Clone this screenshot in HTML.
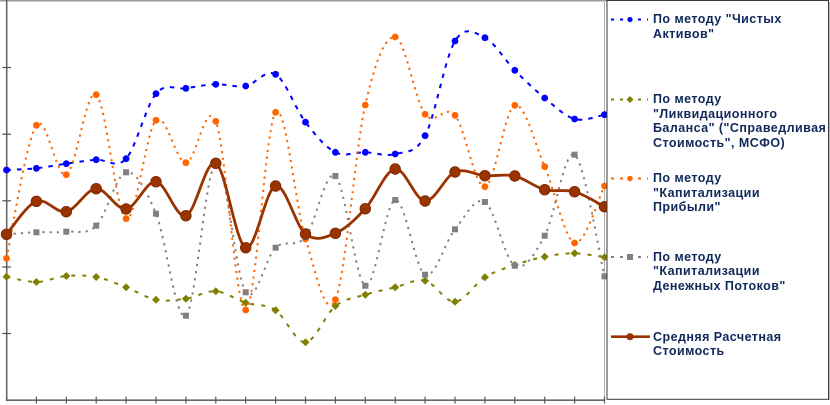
<!DOCTYPE html>
<html><head><meta charset="utf-8"><style>
html,body{margin:0;padding:0;background:#fff;}
#c{position:relative;width:830px;height:405px;overflow:hidden;background:#fff;}
svg{position:absolute;left:0;top:0;}
.t{position:absolute;left:653px;font:bold 12.5px "Liberation Sans","DejaVu Sans",sans-serif;letter-spacing:0.45px;line-height:14.5px;color:#10295a;white-space:nowrap;}
</style></head><body><div id="c">
<svg width="830" height="405" viewBox="0 0 830 405">
<defs>
<marker id="mb" markerUnits="userSpaceOnUse" markerWidth="12" markerHeight="12" refX="6" refY="6" overflow="visible"><circle cx="6" cy="6" r="3.4" fill="#0000ff"/></marker>
<marker id="mo" markerUnits="userSpaceOnUse" markerWidth="12" markerHeight="12" refX="6" refY="6" overflow="visible"><path d="M6,2 L10,6 L6,10 L2,6Z" fill="#808000"/></marker>
<marker id="mr" markerUnits="userSpaceOnUse" markerWidth="12" markerHeight="12" refX="6" refY="6" overflow="visible"><circle cx="6" cy="6" r="3.4" fill="#ff6600"/></marker>
<marker id="mg" markerUnits="userSpaceOnUse" markerWidth="12" markerHeight="12" refX="6" refY="6" overflow="visible"><rect x="3" y="3" width="6" height="6" fill="#808080"/></marker>
<marker id="mbr" markerUnits="userSpaceOnUse" markerWidth="14" markerHeight="14" refX="7" refY="7" overflow="visible"><circle cx="7" cy="7" r="5.3" fill="#993300" stroke="#7a2600" stroke-width="0.8"/></marker>
</defs>
<!-- frame -->
<line x1="0" y1="0.75" x2="607" y2="0.75" stroke="#9a9a9a" stroke-width="1.5"/>
<line x1="604.5" y1="0" x2="604.5" y2="400" stroke="#b0b0b0" stroke-width="1"/>
<!-- axes -->
<line x1="6.7" y1="0" x2="6.7" y2="401" stroke="#666" stroke-width="1.6"/>
<line x1="6" y1="400.2" x2="605" y2="400.2" stroke="#666" stroke-width="1.6"/>
<g stroke="#555" stroke-width="1.2">
<line x1="2.3" y1="67.5" x2="11" y2="67.5"/>
<line x1="2.3" y1="134.2" x2="11" y2="134.2"/>
<line x1="2.3" y1="200.8" x2="11" y2="200.8"/>
<line x1="2.3" y1="267" x2="11" y2="267"/>
<line x1="2.3" y1="333.5" x2="11" y2="333.5"/>
<line x1="36.4" y1="396.7" x2="36.4" y2="403.5"/>
<line x1="66.3" y1="396.7" x2="66.3" y2="403.5"/>
<line x1="96.2" y1="396.7" x2="96.2" y2="403.5"/>
<line x1="126.1" y1="396.7" x2="126.1" y2="403.5"/>
<line x1="156" y1="396.7" x2="156" y2="403.5"/>
<line x1="185.9" y1="396.7" x2="185.9" y2="403.5"/>
<line x1="215.8" y1="396.7" x2="215.8" y2="403.5"/>
<line x1="245.7" y1="396.7" x2="245.7" y2="403.5"/>
<line x1="275.6" y1="396.7" x2="275.6" y2="403.5"/>
<line x1="305.5" y1="396.7" x2="305.5" y2="403.5"/>
<line x1="335.4" y1="396.7" x2="335.4" y2="403.5"/>
<line x1="365.3" y1="396.7" x2="365.3" y2="403.5"/>
<line x1="395.2" y1="396.7" x2="395.2" y2="403.5"/>
<line x1="425.1" y1="396.7" x2="425.1" y2="403.5"/>
<line x1="455" y1="396.7" x2="455" y2="403.5"/>
<line x1="484.9" y1="396.7" x2="484.9" y2="403.5"/>
<line x1="514.8" y1="396.7" x2="514.8" y2="403.5"/>
<line x1="544.7" y1="396.7" x2="544.7" y2="403.5"/>
<line x1="574.6" y1="396.7" x2="574.6" y2="403.5"/>
<line x1="604.5" y1="396.7" x2="604.5" y2="403.5"/>
</g>
<!-- blue -->
<path fill="none" stroke="#0000ff" stroke-width="2" stroke-dasharray="4.5,6" marker-start="url(#mb)" marker-mid="url(#mb)" marker-end="url(#mb)"
d="M6.5,170 C11.48,169.72 26.43,169.35 36.4,168.3 S56.33,165.13 66.3,163.7 S86.23,160.53 96.2,159.7 S116.13,169.7 126.1,158.7 S146.03,105.43 156,93.7 S175.93,89.87 185.9,88.3 S205.83,84.68 215.8,84.3 S235.73,87.67 245.7,86 S265.63,68.27 275.6,74.3 S295.53,109.2 305.5,122.2 S325.43,147.28 335.4,152.3 S355.33,152.02 365.3,152.3 S385.23,156.77 395.2,154 S415.13,154.53 425.1,135.7 S445.03,57.33 455,41 S474.93,32.82 484.9,37.7 S504.83,60.25 514.8,70.3 S534.73,89.88 544.7,98 S564.63,116.22 574.6,119 S599.52,115.42 604.5,114.7"/>
<!-- olive -->
<path fill="none" stroke="#808000" stroke-width="2" stroke-dasharray="4,7" marker-start="url(#mo)" marker-mid="url(#mo)" marker-end="url(#mo)"
d="M6.5,276.7 C11.48,277.58 26.43,282.12 36.4,282 S56.33,276.83 66.3,276 S86.23,275.12 96.2,277 S116.13,283.52 126.1,287.3 S146.03,297.8 156,299.7 S175.93,300.1 185.9,298.7 S205.83,290.63 215.8,291.3 S235.73,299.53 245.7,302.7 S265.63,303.7 275.6,310.3 S295.53,343.02 305.5,342.3 S325.43,313.93 335.4,306 S355.33,297.82 365.3,294.7 S385.23,289.63 395.2,287.3 S415.13,278.3 425.1,280.7 S445.03,302.27 455,301.7 S474.93,283.42 484.9,277.3 S504.83,268.43 514.8,265 S534.73,258.65 544.7,256.7 S564.63,253.2 574.6,253.3 S599.52,256.63 604.5,257.3"/>
<!-- orange -->
<path fill="none" stroke="#ff6600" stroke-width="2" stroke-dasharray="2.2,4.5" marker-start="url(#mr)" marker-mid="url(#mr)" marker-end="url(#mr)"
d="M6.5,258.3 C11.48,236.13 26.43,139.23 36.4,125.3 S56.33,179.8 66.3,174.7 S86.23,87.37 96.2,94.7 S116.13,214.43 126.1,218.7 S146.03,129.63 156,120.3 S175.93,162.53 185.9,162.7 S205.83,96.75 215.8,121.3 S235.73,311.5 245.7,310 S265.63,124.13 275.6,112.3 S295.53,207.77 305.5,239 S325.43,322.03 335.4,299.7 S355.33,148.78 365.3,105 S385.23,35.45 395.2,37 S415.13,101.25 425.1,114.3 S445.03,103.23 455,115.3 S474.93,188.37 484.9,186.7 S504.83,108.63 514.8,105.3 S534.73,143.75 544.7,166.7 S564.63,239.78 574.6,243 S599.52,195.5 604.5,186"/>
<!-- gray -->
<path fill="none" stroke="#808080" stroke-width="2" stroke-dasharray="2.2,5" marker-start="url(#mg)" marker-mid="url(#mg)" marker-end="url(#mg)"
d="M6.5,234.3 C11.48,233.97 26.43,232.73 36.4,232.3 S56.33,232.8 66.3,231.7 S86.23,235.6 96.2,225.7 S116.13,174.3 126.1,172.3 S146.03,189.8 156,213.7 S175.93,324.1 185.9,315.7 S205.83,167.2 215.8,163.3 S235.73,278.23 245.7,292.3 S265.63,256.92 275.6,247.7 S295.53,248.95 305.5,237 S325.43,167.88 335.4,176 S355.33,281.7 365.3,285.7 S385.23,201.83 395.2,200 S415.13,269.82 425.1,274.7 S445.03,241.42 455,229.3 S474.93,195.93 484.9,202 S504.83,260.08 514.8,265.7 S534.73,254.2 544.7,235.7 S564.63,147.93 574.6,154.7 S599.52,256.03 604.5,276.3"/>
<!-- brown -->
<path fill="none" stroke="#993300" stroke-width="2.8" marker-start="url(#mbr)" marker-mid="url(#mbr)" marker-end="url(#mbr)"
d="M6.5,234.3 C11.48,228.8 26.43,205.07 36.4,201.3 S56.33,213.8 66.3,211.7 S86.23,189.15 96.2,188.7 S116.13,210.17 126.1,209 S146.03,180.58 156,181.7 S175.93,218.77 185.9,215.7 S205.83,157.97 215.8,163.3 S235.73,243.92 245.7,247.7 S265.63,188.28 275.6,186 S295.53,226.12 305.5,234 S325.43,237.52 335.4,233.3 S355.33,219.42 365.3,208.7 S385.23,170.28 395.2,169 S415.13,200.5 425.1,201 S445.03,176.22 455,172 S474.93,175.03 484.9,175.7 S504.83,173.67 514.8,176 S534.73,187.08 544.7,189.7 S564.63,188.87 574.6,191.7 S599.52,204.2 604.5,206.7"/>
<!-- legend box -->
<rect x="607" y="0.5" width="221.5" height="398.8" fill="#fff" stroke="#3a3a3a" stroke-width="1"/>
<line x1="829.5" y1="2" x2="829.5" y2="400" stroke="#bbb" stroke-width="1"/>
<!-- legend samples -->
<line x1="611" y1="19.5" x2="648" y2="19.5" stroke="#0000ff" stroke-width="2" stroke-dasharray="3,6"/>
<circle cx="630" cy="19.5" r="2.6" fill="#0000ff"/>
<line x1="611" y1="99.5" x2="648" y2="99.5" stroke="#808000" stroke-width="2" stroke-dasharray="3,6"/>
<path d="M630,96 L633.5,99.5 L630,103 L626.5,99.5Z" fill="#808000"/>
<line x1="611" y1="178.5" x2="648" y2="178.5" stroke="#ff6600" stroke-width="2" stroke-dasharray="3,6"/>
<circle cx="630" cy="178.5" r="2.8" fill="#ff6600"/>
<line x1="611" y1="257" x2="648" y2="257" stroke="#808080" stroke-width="2" stroke-dasharray="3,6"/>
<rect x="627" y="254" width="6" height="6" fill="#808080"/>
<line x1="611" y1="336.7" x2="650" y2="336.7" stroke="#993300" stroke-width="2.6"/>
<circle cx="630" cy="336.7" r="3.6" fill="#993300"/>
</svg>
<div class="t" style="top:12px">По методу &quot;Чистых<br>Активов&quot;</div>
<div class="t" style="top:92px">По методу<br>&quot;Ликвидационного<br>Баланса&quot; (&quot;Справедливая<br>Стоимость&quot;, МСФО)</div>
<div class="t" style="top:171px">По методу<br>&quot;Капитализации<br>Прибыли&quot;</div>
<div class="t" style="top:249.5px">По методу<br>&quot;Капитализации<br>Денежных Потоков&quot;</div>
<div class="t" style="top:329.5px">Средняя Расчетная<br>Стоимость</div>
</div></body></html>
